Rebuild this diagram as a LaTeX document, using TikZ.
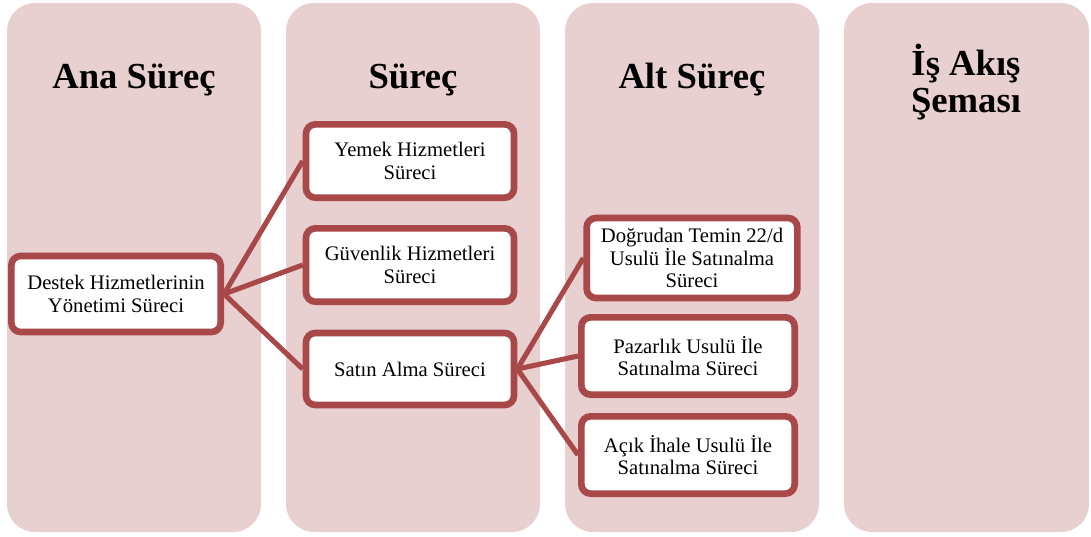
\documentclass[tikz,border=0pt]{standalone}
\usepackage{fontspec}
\setmainfont{Liberation Serif}
\usetikzlibrary{shadows}
\definecolor{panelpink}{RGB}{232,207,208}
\definecolor{boxred}{RGB}{168,72,72}
\tikzset{
  panel/.style={fill=panelpink, draw=none, rounded corners=21pt},
  header/.style={font=\fontsize{27.5}{28}\selectfont\bfseries, align=center},
  procbox/.style={draw=boxred, line width=5pt, fill=white, rounded corners=7pt,
    align=center, font=\fontsize{15.5}{17}\selectfont, inner sep=2pt,
    drop shadow={shadow xshift=1pt, shadow yshift=-1.5pt, opacity=0.35}},
  link/.style={draw=boxred, line width=3.8pt}
}
\begin{document}
\begin{tikzpicture}[x=0.75pt,y=-0.75pt]
\useasboundingbox (0,0) rectangle (1091,536);

% Columns
\fill[panel] (7,3) rectangle (261,532);
\fill[panel] (286,3) rectangle (540,532);
\fill[panel] (565,3) rectangle (819,532);
\fill[panel] (844,3) rectangle (1089,532);

% Headers
\node[header] (ana) at (134,80) {Ana Süreç};
\node[header] (surec) at (413,80) {Süreç};
\node[header] (alt) at (692,80) {Alt Süreç};
\node[header] (akis) at (966,82) {İş Akış\\Şeması};

% Boxes
\node[procbox, minimum width=157pt, minimum height=57pt] (destek) at (116,294) {Destek Hizmetlerinin\\Yönetimi Süreci};
\node[procbox, minimum width=156pt, minimum height=55pt] (yemek) at (410,161) {Yemek Hizmetleri\\Süreci};
\node[procbox, minimum width=156pt, minimum height=55pt] (guvenlik) at (410,265) {Güvenlik Hizmetleri\\Süreci};
\node[procbox, minimum width=156pt, minimum height=54pt] (satin) at (410,369) {Satın Alma Süreci};
\node[procbox, minimum width=158pt, minimum height=60pt] (dogrudan) at (692,258) {Doğrudan Temin 22/d\\Usulü İle Satınalma\\Süreci};
\node[procbox, minimum width=160pt, minimum height=58pt] (pazarlik) at (688,356) {Pazarlık Usulü İle\\Satınalma Süreci};
\node[procbox, minimum width=160pt, minimum height=58pt] (acik) at (688,455) {Açık İhale Usulü İle\\Satınalma Süreci};

% Connectors
\draw[link] (destek.east) -- (yemek.west);
\draw[link] (destek.east) -- (guvenlik.west);
\draw[link] (destek.east) -- (satin.west);
\draw[link] (satin.east) -- (dogrudan.west);
\draw[link] (satin.east) -- (pazarlik.west);
\draw[link] (satin.east) -- (acik.west);
\end{tikzpicture}
\end{document}
